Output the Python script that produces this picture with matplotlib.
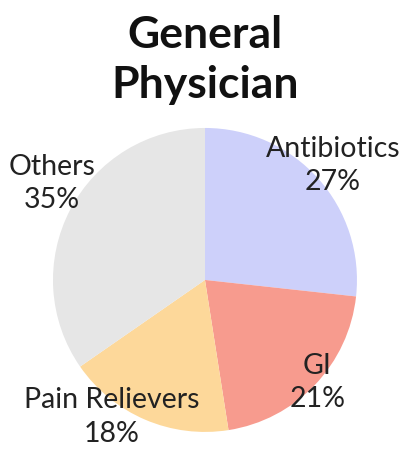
import matplotlib
matplotlib.use("Agg")
import matplotlib.pyplot as plt
import numpy as np

categories = ["Antibiotics", "GI", "Pain Relievers", "Others"]
values = [27, 21, 18, 35]
colors = ["#CDD0FA", "#F79B8E", "#FDD89A", "#E6E6E6"]
label_radius = [1.13, 1.0, 1.09, 1.19]
label_angle_shift = [0.0, 1.3, -11.0, -4.5]

plt.rcParams['font.family'] = ['Lato', 'DejaVu Sans']

fig = plt.figure(figsize=(4.12, 4.49), dpi=100)
ax = fig.add_axes([0.126, 0.038, 0.743, 0.677])
wedges, _ = ax.pie(values, colors=colors, startangle=90, counterclock=False,
                   wedgeprops=dict(linewidth=0))
ax.set_aspect('equal')
ax.set_xlim(-1, 1)
ax.set_ylim(-1, 1)

for w, cat, v, r, sh in zip(wedges, categories, values, label_radius, label_angle_shift):
    ang = np.deg2rad((w.theta1 + w.theta2) / 2 + sh)
    x, y = r * np.cos(ang), r * np.sin(ang)
    ax.text(x, y, f"{cat}\n{v}%", ha='center', va='center', fontsize=20.5,
            color='#222222', linespacing=1.35, clip_on=False)

fig.text(0.498, 0.866, "General\nPhysician", ha='center', va='center',
         fontsize=32, fontweight='bold', color='#111111', linespacing=1.32)

fig.savefig("out.png", dpi=100)
